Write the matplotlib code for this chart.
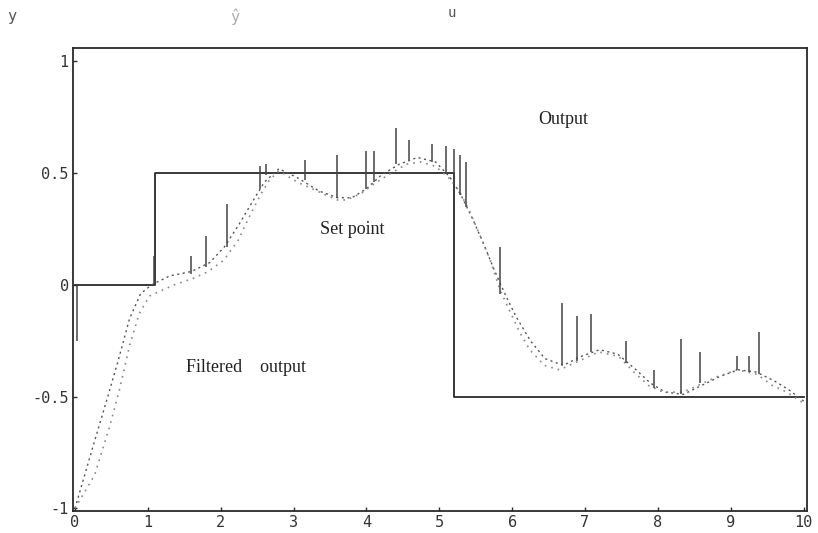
import matplotlib
matplotlib.use("Agg")
import matplotlib.pyplot as plt

# ---- data ----
setpoint_t = [0.0, 1.1, 1.1, 5.2, 5.2, 10.0]
setpoint_y = [0.0, 0.0, 0.5, 0.5, -0.5, -0.5]

output_t = [0.0, 0.25, 0.45, 0.6, 0.75, 0.9, 1.05, 1.3, 1.6, 1.85, 2.05, 2.25, 2.45, 2.6,
            2.8, 3.05, 3.35, 3.6, 3.8, 4.0, 4.2, 4.45, 4.7, 4.95, 5.15, 5.3, 5.45, 5.6,
            5.75, 5.9, 6.05, 6.25, 6.45, 6.7, 6.95, 7.2, 7.45, 7.7, 7.9, 8.1, 8.35, 8.6,
            8.85, 9.1, 9.35, 9.6, 9.8, 10.0]
output_y = [-1.0, -0.72, -0.5, -0.33, -0.15, -0.04, 0.0, 0.04, 0.06, 0.1, 0.17, 0.27, 0.38, 0.46,
            0.52, 0.48, 0.42, 0.39, 0.39, 0.43, 0.49, 0.54, 0.57, 0.55, 0.48, 0.40, 0.30, 0.19,
            0.07, -0.04, -0.14, -0.25, -0.33, -0.36, -0.32, -0.29, -0.31, -0.38, -0.44, -0.48, -0.49, -0.45,
            -0.41, -0.38, -0.39, -0.43, -0.47, -0.52]

filtered_t = [0.0, 0.27, 0.47, 0.61, 0.75, 0.88, 1.02, 1.36, 1.63, 1.83, 2.04, 2.24, 2.37, 2.54,
              2.67, 2.8, 3.05, 3.39, 3.6, 3.73, 3.93, 4.14, 4.34, 4.55, 4.75, 4.95, 5.16, 5.29,
              5.43, 5.56, 5.7, 5.83, 5.97, 6.1, 6.24, 6.44, 6.65, 6.92, 7.19, 7.46, 7.67, 7.87,
              8.07, 8.34, 8.55, 8.82, 9.09, 9.36, 9.57, 9.77, 10.0]
filtered_y = [-1.0, -0.85, -0.64, -0.47, -0.27, -0.13, -0.05, 0.0, 0.03, 0.06, 0.11, 0.2, 0.29, 0.4,
              0.47, 0.51, 0.46, 0.41, 0.38, 0.38, 0.41, 0.46, 0.5, 0.54, 0.55, 0.53, 0.47, 0.41,
              0.32, 0.22, 0.11, -0.02, -0.12, -0.21, -0.29, -0.36, -0.38, -0.34, -0.3, -0.32, -0.39, -0.45,
              -0.48, -0.48, -0.45, -0.41, -0.38, -0.4, -0.45, -0.48, -0.53]

spike_t = [0.03, 1.09, 1.59, 1.8, 2.08, 2.54, 2.62, 3.16, 3.6, 4.0, 4.11, 4.41, 4.59, 4.9,
           5.09, 5.2, 5.29, 5.36, 5.83, 6.69, 6.89, 7.08, 7.56, 7.94, 8.32, 8.58, 9.09, 9.25, 9.39]
spike_base = [-0.25, 0.0, 0.05, 0.08, 0.17, 0.43, 0.49, 0.47, 0.39, 0.43, 0.46, 0.54, 0.56, 0.55,
              0.5, 0.45, 0.4, 0.35, -0.04, -0.36, -0.34, -0.3, -0.35, -0.46, -0.49, -0.44, -0.38, -0.39, -0.40]
spike_top = [0.0, 0.13, 0.13, 0.22, 0.36, 0.53, 0.54, 0.56, 0.58, 0.6, 0.6, 0.7, 0.65, 0.63,
             0.62, 0.61, 0.58, 0.55, 0.17, -0.08, -0.14, -0.13, -0.25, -0.38, -0.24, -0.3, -0.32, -0.32, -0.21]

xticks = [0, 1, 2, 3, 4, 5, 6, 7, 8, 9, 10]
yticks = [-1, -0.5, 0, 0.5, 1]
ytick_labels = ["-1", "-0.5", "0", "0.5", "1"]

# ---- figure ----
fig = plt.figure(figsize=(8.18, 5.33), dpi=100)
ax = fig.add_axes([0.089, 0.042, 0.897, 0.868])
ax.set_xlim(-0.03, 10.04)
ax.set_ylim(-1.01, 1.06)

ink = "#2a2a2a"
ax.plot(setpoint_t, setpoint_y, color=ink, lw=1.3)
ax.plot(output_t, output_y, color="#555555", lw=1.0, ls=(0, (1.5, 2.5)))
ax.plot(filtered_t, filtered_y, color="#888888", lw=1.2, ls=(0, (1, 3)))
ax.vlines(spike_t, spike_base, spike_top, color="#444444", lw=1.1)

serif = ["Liberation Serif", "DejaVu Serif"]
ax.text(3.8, 0.25, "Set point", fontsize=13, family=serif, color="#222222", ha="center", va="center")
ax.text(6.7, 0.74, "Output", fontsize=13, family=serif, color="#222222", ha="center", va="center")
ax.text(2.35, -0.37, "Filtered    output", fontsize=13, family=serif, color="#222222",
        ha="center", va="center")

ax.set_xticks(xticks)
ax.set_yticks(yticks)
ax.set_yticklabels(ytick_labels)
ax.tick_params(direction="in", length=3, width=1, color=ink, labelsize=11, pad=3)
for lab in ax.get_xticklabels() + ax.get_yticklabels():
    lab.set_family("DejaVu Sans Mono")
    lab.set_color("#333333")
for s in ax.spines.values():
    s.set_color(ink)
    s.set_linewidth(1.3)

fig.text(12 / 818, 1 - 17 / 533, "y", fontsize=11, family="DejaVu Sans Mono", color="#555555",
         ha="center", va="center")
fig.text(235 / 818, 1 - 17 / 533, "ŷ", fontsize=11, family="DejaVu Sans Mono", color="#aaaaaa",
         ha="center", va="center")
fig.text(452 / 818, 1 - 13 / 533, "u", fontsize=10, family="DejaVu Sans Mono", color="#555555",
         ha="center", va="center")

fig.savefig("out.png", dpi=100)
